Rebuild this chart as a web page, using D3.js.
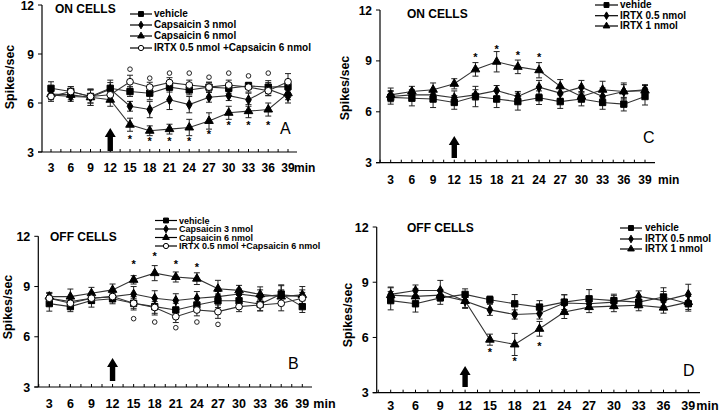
<!DOCTYPE html>
<html><head><meta charset="utf-8">
<script src="https://cdn.jsdelivr.net/npm/d3@7"></script>
<style>
body{margin:0;background:#fff;}
svg{display:block;font-family:"Liberation Sans",Arial,sans-serif;}
</style></head>
<body><svg id="c" width="720" height="414"></svg>
<script>
// ---------- data ----------
const minutes = [3,6,9,12,15,18,21,24,27,30,33,36,39];
const yTicks = [3,6,9,12];

// Panel A: ON cells, capsaicin
const aVehicle    = [6.9,6.7,6.4,6.9,6.7,6.6,6.97,6.8,6.97,6.9,7.05,6.97,7.0];
const aVehicleErr = [0.4,0.3,0.4,0.5,0.3,0.4,0.3,0.3,0.3,0.3,0.2,0.4,0.4];
const aCap3       = [6.5,6.4,6.35,6.85,5.8,5.6,6.2,5.9,6.35,6.45,6.2,6.85,6.4];
const aCap3Err    = [0.3,0.3,0.5,0.4,0.3,0.5,0.6,0.5,0.3,0.3,0.4,0.4,0.4];
const aCap6       = [6.55,6.5,6.35,6.2,4.67,4.3,4.4,4.5,4.9,5.4,5.5,5.6,6.6];
const aCap6Err    = [0.3,0.3,0.5,0.4,0.4,0.3,0.3,0.5,0.5,0.4,0.4,0.4,0.4];
const aIrtxCap    = [6.4,6.7,6.4,6.5,7.3,6.97,7.25,7.1,6.97,7.1,6.97,6.75,7.3];
const aIrtxCapErr = [0.3,0.3,0.4,0.3,0.4,0.3,0.3,0.3,0.3,0.3,0.3,0.3,0.5];
const aStarMin = [15,18,21,24,27,30,33,36];
const aStarY   = [3.9,3.8,3.8,3.8,4.2,4.8,4.8,4.8];
const aRingMin = [15,18,21,24,27,30,33,36];
const aRingY   = [8.07,7.52,7.83,7.83,7.58,7.83,7.66,7.83];

// Panel B: OFF cells, capsaicin
const bVehicle    = [7.98,7.8,8.17,8.27,8.0,7.8,7.6,7.9,8.15,8.15,7.95,8.55,7.8];
const bVehicleErr = [0.45,0.3,0.4,0.3,0.4,0.5,0.4,0.4,0.4,0.4,0.4,0.5,0.35];
const bCap3       = [8.3,8.1,8.3,8.4,8.55,8.3,8.17,8.3,8.4,8.55,8.4,8.5,8.4];
const bCap3Err    = [0.3,0.3,0.3,0.3,0.45,0.45,0.4,0.4,0.3,0.3,0.4,0.6,0.6];
const bCap6       = [8.4,8.4,8.6,8.8,9.4,9.8,9.57,9.47,8.87,8.77,8.53,8.4,8.5];
const bCap6Err    = [0.25,0.45,0.35,0.35,0.25,0.45,0.3,0.35,0.5,0.3,0.45,0.4,0.3];
const bIrtxCap    = [8.3,8.0,8.3,8.4,8.0,7.75,7.2,7.6,7.5,7.8,7.9,8.0,8.3];
const bIrtxCapErr = [0.3,0.3,0.3,0.3,0.3,0.35,0.35,0.35,0.4,0.3,0.35,0.45,0.35];
const bStarMin = [15,18,21,24];
const bStarY   = [10.47,10.96,10.47,10.27];
const bRingMin = [15,18,21,24,27];
const bRingY   = [7.08,6.88,6.54,6.88,6.74];

// Panel C: ON cells, IRTX
const cVehicle    = [6.85,6.8,6.75,6.55,6.9,6.75,6.6,6.83,6.6,6.75,6.55,6.45,6.9];
const cVehicleErr = [0.4,0.45,0.5,0.4,0.6,0.5,0.5,0.4,0.4,0.4,0.4,0.4,0.5];
const cIrtx05     = [6.9,7.0,7.0,6.83,7.0,7.25,6.9,7.45,7.1,7.45,6.9,7.2,7.3];
const cIrtx05Err  = [0.3,0.3,0.3,0.4,0.3,0.3,0.3,0.4,0.3,0.4,0.5,0.4,0.3];
const cIrtx1      = [7.0,7.2,7.3,7.65,8.5,8.95,8.65,8.45,7.5,6.9,7.3,7.2,7.25];
const cIrtx1Err   = [0.4,0.3,0.4,0.3,0.4,0.6,0.4,0.45,0.4,0.3,0.5,0.5,0.3];
const cStarMin = [15,18,21,24];
const cStarY   = [9.35,9.84,9.45,9.35];

// Panel D: OFF cells, IRTX
const dVehicle    = [8.0,7.83,8.15,8.34,8.05,7.83,7.65,7.92,8.1,8.0,7.92,8.2,7.83];
const dVehicleErr = [0.5,0.45,0.35,0.3,0.2,0.5,0.35,0.4,0.5,0.35,0.3,0.5,0.4];
const dIrtx05     = [8.34,8.55,8.55,7.98,7.5,7.25,7.3,7.87,7.83,7.92,8.23,8.0,8.34];
const dIrtx05Err  = [0.4,0.3,0.55,0.4,0.3,0.25,0.3,0.45,0.3,0.35,0.3,0.5,0.55];
const dIrtx1      = [8.3,8.23,8.3,7.98,5.88,5.62,6.47,7.38,7.65,7.7,7.75,7.62,7.92];
const dIrtx1Err   = [0.4,0.4,0.3,0.35,0.3,0.6,0.4,0.35,0.3,0.3,0.3,0.3,0.4];
const dStarMin = [15,18,21];
const dStarY   = [5.3,4.84,5.66];

// ---------- drawing ----------
const svg = d3.select("#c");
const LINE = "#333";

const symbols = {
  square:   {type:d3.symbolSquare,   size:40, fill:"#000"},
  diamond:  {type:d3.symbolDiamond,  size:28, fill:"#000"},
  triangle: {type:d3.symbolTriangle, size:32, fill:"#000"},
  circle:   {type:d3.symbolCircle,   size:36, fill:"#fff"}
};

function panel(cfg){
  const g = svg.append("g");
  const x = d3.scaleLinear().domain([3,39]).range([cfg.x3,cfg.x39]);
  const y = d3.scaleLinear().domain([3,12]).range([cfg.y3,cfg.y12]);
  const x0 = x.invert(cfg.yAxisX), x1 = x.invert(cfg.xEnd);

  g.append("line").attr("x1",cfg.yAxisX).attr("x2",cfg.yAxisX)
    .attr("y1",y(12)).attr("y2",y(3)).attr("stroke","#000").attr("stroke-width",1.2);
  g.append("line").attr("x1",cfg.yAxisX-4).attr("x2",cfg.xEnd)
    .attr("y1",y(3)).attr("y2",y(3)).attr("stroke","#000").attr("stroke-width",1.2);

  yTicks.forEach(t=>{
    g.append("line").attr("x1",cfg.yAxisX-4).attr("x2",cfg.yAxisX)
      .attr("y1",y(t)).attr("y2",y(t)).attr("stroke","#000");
    g.append("text").attr("x",cfg.yAxisX-8).attr("y",y(t)+4.5)
      .attr("text-anchor","end").attr("font-size",cfg.font).attr("font-weight","bold").text(t);
  });
  const xt = d3.range(Math.ceil(x0/1.5)*1.5, x1+0.01, 1.5);
  xt.forEach(t=>{
    g.append("line").attr("x1",x(t)).attr("x2",x(t))
      .attr("y1",y(3)-3).attr("y2",y(3)).attr("stroke","#000");
  });
  minutes.forEach(m=>{
    g.append("text").attr("x",x(m)).attr("y",y(3)+cfg.labDy)
      .attr("text-anchor","middle").attr("font-size",cfg.font).attr("font-weight","bold").text(m);
  });
  g.append("text").attr("x",x(39)+cfg.minDx).attr("y",y(3)+cfg.labDy)
    .attr("font-size",cfg.font).attr("font-weight","bold").text("min");

  g.append("text").attr("transform",`translate(${cfg.ylabX},${cfg.ylabY}) rotate(-90)`)
    .attr("text-anchor","middle").attr("font-size",12.5).attr("font-weight","bold").text("Spikes/sec");

  g.append("text").attr("x",cfg.titleX).attr("y",cfg.titleY)
    .attr("font-size",12).attr("font-weight","bold").text(cfg.title);
  g.append("text").attr("x",cfg.letterX).attr("y",cfg.letterY)
    .attr("font-size",16).text(cfg.letter);

  const ax = x(12), ab = cfg.arrowBottom, at = cfg.arrowTop;
  g.append("path").attr("d",
    `M${ax-2.7},${ab} L${ax-2.7},${at+9} L${ax-5.5},${at+9} L${ax},${at} L${ax+5.5},${at+9} L${ax+2.7},${at+9} L${ax+2.7},${ab} Z`)
    .attr("fill","#000");

  const line = d3.line().x((d,i)=>x(minutes[i])).y(d=>y(d));
  cfg.series.forEach(s=>{
    g.append("path").datum(s.values).attr("d",line)
      .attr("fill","none").attr("stroke",LINE).attr("stroke-width",1.1);
  });
  cfg.series.forEach(s=>{
    s.values.forEach((v,i)=>{
      const e = s.err[i], xx = x(minutes[i]);
      const top = y(v+e), bot = y(v-e);
      g.append("line").attr("x1",xx).attr("x2",xx).attr("y1",top).attr("y2",bot)
        .attr("stroke","#222").attr("stroke-width",1);
      [top,bot].forEach(yy=>g.append("line").attr("x1",xx-3).attr("x2",xx+3)
        .attr("y1",yy).attr("y2",yy).attr("stroke","#222").attr("stroke-width",1));
    });
  });
  cfg.series.forEach(s=>{
    const sym = symbols[s.shape];
    s.values.forEach((v,i)=>{
      g.append("path").attr("d",d3.symbol(sym.type,sym.size)())
        .attr("transform",`translate(${x(minutes[i])},${y(v)})`)
        .attr("fill",sym.fill).attr("stroke","#000").attr("stroke-width",1);
    });
  });

  (cfg.stars||[]).forEach(st=>{
    st.min.forEach((m,i)=>{
      g.append("text").attr("x",x(m)).attr("y",y(st.y[i])+6)
        .attr("text-anchor","middle").attr("font-size",11).attr("font-weight","bold").text("*");
    });
  });
  (cfg.rings||[]).forEach(r=>{
    r.min.forEach((m,i)=>{
      g.append("circle").attr("cx",x(m)).attr("cy",y(r.y[i])).attr("r",2.3)
        .attr("fill","#fff").attr("stroke","#222").attr("stroke-width",1);
    });
  });

  const L = cfg.legend;
  cfg.series.forEach((s,i)=>{
    const yy = L.rows[i];
    g.append("line").attr("x1",L.x1).attr("x2",L.x2).attr("y1",yy).attr("y2",yy)
      .attr("stroke","#000").attr("stroke-width",1.2);
    const sym = symbols[s.shape];
    g.append("path").attr("d",d3.symbol(sym.type,sym.size*0.6)())
      .attr("transform",`translate(${(L.x1+L.x2)/2},${yy})`)
      .attr("fill",sym.fill).attr("stroke","#000");
    g.append("text").attr("x",L.tx).attr("y",yy+3.3)
      .attr("font-size",L.font).attr("font-weight","bold").text(s.name);
  });
}

panel({
  yAxisX:42, x3:51, x39:288, xEnd:297, y12:5, y3:152, font:12, labDy:20, minDx:6,
  ylabX:14, ylabY:77, title:"ON CELLS", titleX:55, titleY:13, letter:"A", letterX:280, letterY:134,
  arrowTop:128, arrowBottom:151,
  series:[
    {name:"vehicle", shape:"square", values:aVehicle, err:aVehicleErr},
    {name:"Capsaicin 3 nmol", shape:"diamond", values:aCap3, err:aCap3Err},
    {name:"Capsaicin 6 nmol", shape:"triangle", values:aCap6, err:aCap6Err},
    {name:"IRTX  0.5 nmol +Capsaicin 6 nmol", shape:"circle", values:aIrtxCap, err:aIrtxCapErr}
  ],
  stars:[{min:aStarMin, y:aStarY}], rings:[{min:aRingMin, y:aRingY}],
  legend:{x1:130, x2:152, tx:154, rows:[14,25,36,48], font:10}
});

panel({
  yAxisX:38.3, x3:49.3, x39:302.3, xEnd:312, y12:236.3, y3:387, font:12.5, labDy:21, minDx:11,
  ylabX:12, ylabY:307, title:"OFF CELLS", titleX:50, titleY:241, letter:"B", letterX:288, letterY:369,
  arrowTop:358, arrowBottom:381,
  series:[
    {name:"vehicle", shape:"square", values:bVehicle, err:bVehicleErr},
    {name:"Capsaicin 3 nmol", shape:"diamond", values:bCap3, err:bCap3Err},
    {name:"Capsaicin 6 nmol", shape:"triangle", values:bCap6, err:bCap6Err},
    {name:"IRTX 0.5 nmol +Capsaicin 6 nmol", shape:"circle", values:bIrtxCap, err:bIrtxCapErr}
  ],
  stars:[{min:bStarMin, y:bStarY}], rings:[{min:bRingMin, y:bRingY}],
  legend:{x1:155, x2:177, tx:179, rows:[220.5,229,237.5,246], font:9}
});

panel({
  yAxisX:380, x3:390.7, x39:645, xEnd:655, y12:10, y3:162.7, font:12, labDy:21, minDx:13,
  ylabX:349, ylabY:88, title:"ON CELLS", titleX:407, titleY:18, letter:"C", letterX:643, letterY:143,
  arrowTop:136, arrowBottom:158,
  series:[
    {name:"vehide", shape:"square", values:cVehicle, err:cVehicleErr},
    {name:"IRTX  0.5  nmol", shape:"diamond", values:cIrtx05, err:cIrtx05Err},
    {name:"IRTX 1 nmol", shape:"triangle", values:cIrtx1, err:cIrtx1Err}
  ],
  stars:[{min:cStarMin, y:cStarY}],
  legend:{x1:595, x2:618, tx:620, rows:[5,15.7,26], font:10}
});

panel({
  yAxisX:376.7, x3:390.7, x39:688.3, xEnd:700, y12:227, y3:392.7, font:12.5, labDy:17.5, minDx:8,
  ylabX:352, ylabY:315, title:"OFF CELLS", titleX:407, titleY:232, letter:"D", letterX:683, letterY:376,
  arrowTop:366, arrowBottom:387,
  series:[
    {name:"vehicle", shape:"square", values:dVehicle, err:dVehicleErr},
    {name:"IRTX 0.5 nmol", shape:"diamond", values:dIrtx05, err:dIrtx05Err},
    {name:"IRTX 1 nmol", shape:"triangle", values:dIrtx1, err:dIrtx1Err}
  ],
  stars:[{min:dStarMin, y:dStarY}],
  legend:{x1:620, x2:642, tx:645, rows:[228,239,249], font:10}
});
</script></body></html>
